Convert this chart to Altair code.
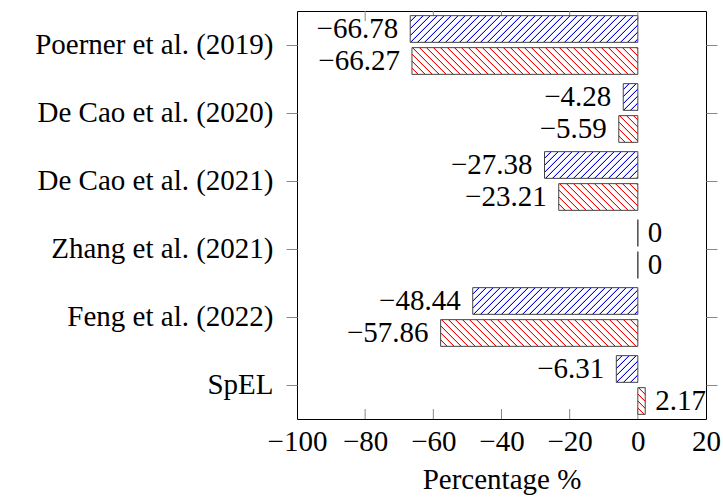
import math
import altair as alt
import pandas as pd

# ---- data ----
methods = ["Poerner et al. (2019)", "De Cao et al. (2020)", "De Cao et al. (2021)",
           "Zhang et al. (2021)", "Feng et al. (2022)", "SpEL"]
series_names = ["A", "B"]
series_a = [-66.78, -4.28, -27.38, 0, -48.44, -6.31]
series_b = [-66.27, -5.59, -23.21, 0, -57.86, 2.17]
x_ticks = [-100, -80, -60, -40, -20, 0, 20]
inner_ticks = [-80, -60, -40, -20, 0]


def fmt(v):
    if v == 0:
        return "0"
    s = f"{abs(v):.2f}"
    return ("\u2212" + s) if v < 0 else s


rows = []
for i, m in enumerate(methods):
    rows.append({"method": m, "series": "A", "value": series_a[i], "label": fmt(series_a[i])})
    rows.append({"method": m, "series": "B", "value": series_b[i], "label": fmt(series_b[i])})
df = pd.DataFrame(rows)
tick_df = pd.DataFrame({"t": inner_ticks})

# ---- layout / style ----
W, H = 409, 408
XMIN, XMAX = -100, 20
FONT = "Liberation Serif"
FS = 29
BAR_H = 26.7
PX = 7.0      # hatch period measured horizontally (px)
CORE = 1.0    # saturated line width (px, horizontal)
HALO = 1.0    # pale halo width (px, horizontal)


def hatch(value, color, tint, direction):
    w = abs(value) * W / (XMAX - XMIN)
    h = BAR_H
    if w < 0.5:
        return "white"
    n = int(math.ceil((w + h) / PX)) + 1
    L = n * PX
    c = L / (w * w + h * h)
    p, q = w * c, h * c
    stops = []
    for i in range(n):
        a = round(i / n, 6)
        b = round((i * PX + PX - CORE - HALO) / L, 6)
        m = round((i * PX + PX - CORE) / L, 6)
        e = round((i + 1) / n, 6) if i < n - 1 else 1.0
        stops += [alt.GradientStop(offset=a, color="white"),
                  alt.GradientStop(offset=b, color="white"),
                  alt.GradientStop(offset=b, color=tint),
                  alt.GradientStop(offset=m, color=tint),
                  alt.GradientStop(offset=m, color=color),
                  alt.GradientStop(offset=e, color=color)]
    if direction == "ne":
        x1, y1, x2, y2 = 0, 0, p, q
    else:
        x1, y1, x2, y2 = 0, 1, p, 1 - q
    return alt.LinearGradient(gradient="linear", stops=stops,
                              x1=x1, y1=y1, x2=round(x2, 6), y2=round(y2, 6))


xscale = alt.Scale(domain=[XMIN, XMAX], nice=False, zero=False)
yscale = alt.Scale(domain=methods, paddingInner=0, paddingOuter=0)
yoffscale = alt.Scale(domain=series_names, paddingInner=0.166, paddingOuter=0.1455)

xaxis = alt.Axis(values=x_ticks, ticks=False, tickSize=0, domain=False, grid=False,
                 labelFont=FONT, labelFontSize=FS, labelColor="black", labelPadding=8,
                 labelFlush=False, labelOverlap=False,
                 labelExpr="datum.value < 0 ? '\u2212' + format(-datum.value, 'd') : format(datum.value, 'd')",
                 title="Percentage %", titleFont=FONT, titleFontSize=FS,
                 titleFontWeight="normal", titleColor="black",
                 titleY=69, titleBaseline="alphabetic")

left_axis = alt.Axis(orient="left", ticks=True, tickSize=11, tickColor="#888", tickWidth=1,
                     domain=False, grid=False, labelFont=FONT, labelFontSize=FS,
                     labelColor="black", labelPadding=13, labelLimit=500, title=None)
right_axis = alt.Axis(orient="right", labels=False, ticks=True, tickSize=11, tickColor="#888",
                      tickWidth=1, domain=False, grid=False, title=None)

X = alt.X("value:Q", scale=xscale, axis=xaxis)

layers = []

# inner x ticks (top and bottom)
layers.append(alt.Chart(tick_df).mark_rule(color="#888", strokeWidth=1).encode(
    x=alt.X("t:Q", scale=xscale, axis=xaxis), y=alt.value(0), y2=alt.value(10)))
layers.append(alt.Chart(tick_df).mark_rule(color="#888", strokeWidth=1).encode(
    x=alt.X("t:Q", scale=xscale, axis=xaxis), y=alt.value(H), y2=alt.value(H - 10)))

# bars, one layer each (hatch fill depends on bar size)
for i, m in enumerate(methods):
    for s, vals, color, tint, d in [("A", series_a, "#0000ff", "#c8c8ff", "ne"),
                                    ("B", series_b, "#ff0000", "#ffc8c8", "nw")]:
        v = vals[i]
        layers.append(
            alt.Chart(df).transform_filter(
                (alt.datum.method == m) & (alt.datum.series == s)
            ).mark_bar(fill=hatch(v, color, tint, d), stroke="#444", strokeWidth=1).encode(
                x=X,
                y=alt.Y("method:N", scale=yscale, axis=None),
                yOffset=alt.YOffset("series:N", scale=yoffscale),
            )
        )

# value labels
layers.append(
    alt.Chart(df).transform_filter(alt.datum.value < 0).mark_text(
        align="right", baseline="middle", dx=-12, font=FONT, fontSize=FS, color="black"
    ).encode(x=X, y=alt.Y("method:N", scale=yscale, axis=left_axis),
             yOffset=alt.YOffset("series:N", scale=yoffscale), text="label:N")
)
layers.append(
    alt.Chart(df).transform_filter(alt.datum.value >= 0).mark_text(
        align="left", baseline="middle", dx=10, font=FONT, fontSize=FS, color="black"
    ).encode(x=X, y=alt.Y("method:N", scale=yscale, axis=None),
             yOffset=alt.YOffset("series:N", scale=yoffscale), text="label:N")
)

# right-side y ticks
layers.append(
    alt.Chart(df).mark_point(opacity=0).encode(
        x=X, y=alt.Y("method:N", scale=yscale, axis=right_axis))
)

chart = alt.layer(*layers).resolve_axis(y="independent").properties(
    width=W, height=H,
    padding={"left": 297, "top": 11, "right": 17, "bottom": 78},
    autosize=alt.AutoSizeParams(type="none"),
    background="white",
).configure_view(stroke="black", strokeWidth=1)

chart.save("out.html", embed_options={"renderer": "svg", "actions": False})
